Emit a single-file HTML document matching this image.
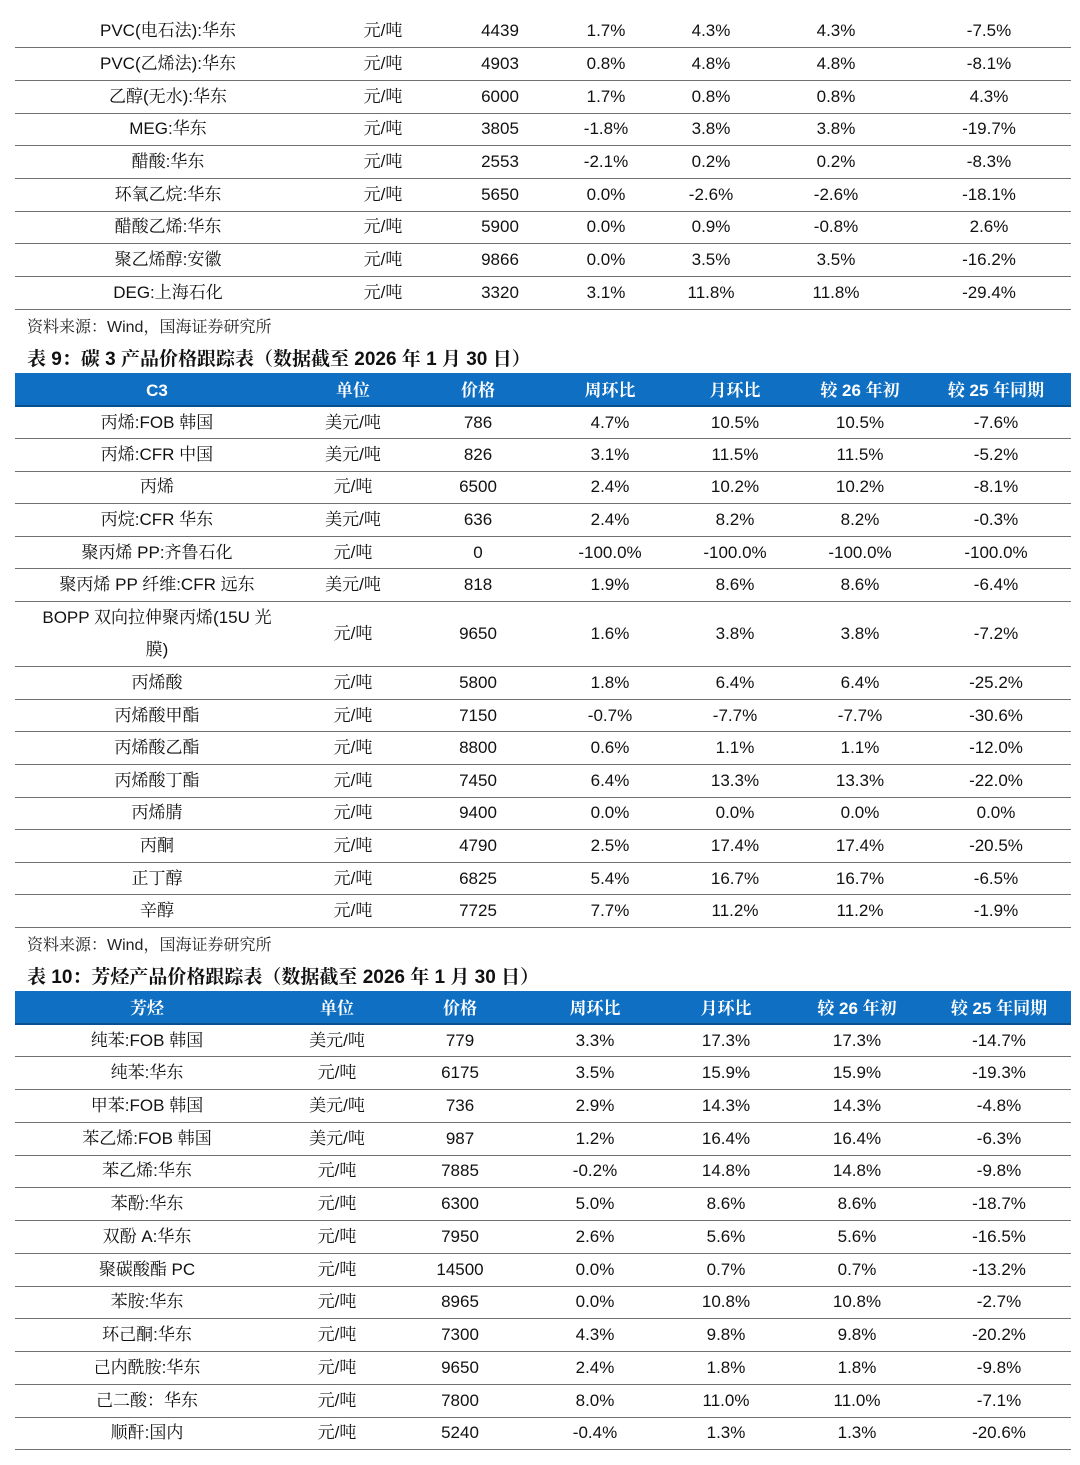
<!DOCTYPE html>
<html><head><meta charset="utf-8">
<style>
body{margin:0;width:1080px;height:1465px;background:#fff;position:relative;overflow:hidden;font-family:"Liberation Sans","Noto Serif CJK SC",serif;color:#111}
table{position:absolute;border-collapse:collapse;table-layout:fixed;font-size:17px}
td{text-align:center;padding:0;border-bottom:1.5px solid #707070;white-space:nowrap;line-height:20px}
tr.h td{background:#0e6fc3;color:#fff;font-weight:bold;border-bottom:2px solid #0a4f8e;font-size:17px;padding-top:3px}
.src{position:absolute;left:27px;font-size:16px;color:#222}
.ttl{position:absolute;left:27px;font-size:19px;font-weight:bold;color:#111}
</style></head><body>
<table style="left:15px;top:15px;width:1056px">
<colgroup><col style="width:306px"><col style="width:124px"><col style="width:110px"><col style="width:102px"><col style="width:108px"><col style="width:142px"><col style="width:164px"></colgroup>
<tbody id="t1"></tbody></table>
<div class="src" style="top:314px">资料来源：Wind，国海证券研究所</div>
<div class="ttl" style="top:344px">表 9：碳 3 产品价格跟踪表（数据截至 2026 年 1 月 30 日）</div>
<table style="left:15px;top:373px;width:1056px">
<colgroup><col style="width:284px"><col style="width:108px"><col style="width:142px"><col style="width:122px"><col style="width:128px"><col style="width:122px"><col style="width:150px"></colgroup>
<tbody id="t2"></tbody></table>
<div class="src" style="top:932px">资料来源：Wind，国海证券研究所</div>
<div class="ttl" style="top:962px">表 10：芳烃产品价格跟踪表（数据截至 2026 年 1 月 30 日）</div>
<table style="left:15px;top:991px;width:1056px">
<colgroup><col style="width:264px"><col style="width:116px"><col style="width:130px"><col style="width:140px"><col style="width:122px"><col style="width:140px"><col style="width:144px"></colgroup>
<tbody id="t3"></tbody></table>
<script>
const hdr2=["C3","单位","价格","周环比","月环比","较 26 年初","较 25 年同期"];
const hdr3=["芳烃","单位","价格","周环比","月环比","较 26 年初","较 25 年同期"];
const rows1=[
["PVC(电石法):华东","元/吨","4439","1.7%","4.3%","4.3%","-7.5%"],
["PVC(乙烯法):华东","元/吨","4903","0.8%","4.8%","4.8%","-8.1%"],
["乙醇(无水):华东","元/吨","6000","1.7%","0.8%","0.8%","4.3%"],
["MEG:华东","元/吨","3805","-1.8%","3.8%","3.8%","-19.7%"],
["醋酸:华东","元/吨","2553","-2.1%","0.2%","0.2%","-8.3%"],
["环氧乙烷:华东","元/吨","5650","0.0%","-2.6%","-2.6%","-18.1%"],
["醋酸乙烯:华东","元/吨","5900","0.0%","0.9%","-0.8%","2.6%"],
["聚乙烯醇:安徽","元/吨","9866","0.0%","3.5%","3.5%","-16.2%"],
["DEG:上海石化","元/吨","3320","3.1%","11.8%","11.8%","-29.4%"]];
const rows2=[
["丙烯:FOB 韩国","美元/吨","786","4.7%","10.5%","10.5%","-7.6%"],
["丙烯:CFR 中国","美元/吨","826","3.1%","11.5%","11.5%","-5.2%"],
["丙烯","元/吨","6500","2.4%","10.2%","10.2%","-8.1%"],
["丙烷:CFR 华东","美元/吨","636","2.4%","8.2%","8.2%","-0.3%"],
["聚丙烯 PP:齐鲁石化","元/吨","0","-100.0%","-100.0%","-100.0%","-100.0%"],
["聚丙烯 PP 纤维:CFR 远东","美元/吨","818","1.9%","8.6%","8.6%","-6.4%"],
["BOPP 双向拉伸聚丙烯(15U 光<br>膜)","元/吨","9650","1.6%","3.8%","3.8%","-7.2%"],
["丙烯酸","元/吨","5800","1.8%","6.4%","6.4%","-25.2%"],
["丙烯酸甲酯","元/吨","7150","-0.7%","-7.7%","-7.7%","-30.6%"],
["丙烯酸乙酯","元/吨","8800","0.6%","1.1%","1.1%","-12.0%"],
["丙烯酸丁酯","元/吨","7450","6.4%","13.3%","13.3%","-22.0%"],
["丙烯腈","元/吨","9400","0.0%","0.0%","0.0%","0.0%"],
["丙酮","元/吨","4790","2.5%","17.4%","17.4%","-20.5%"],
["正丁醇","元/吨","6825","5.4%","16.7%","16.7%","-6.5%"],
["辛醇","元/吨","7725","7.7%","11.2%","11.2%","-1.9%"]];
const rows3=[
["纯苯:FOB 韩国","美元/吨","779","3.3%","17.3%","17.3%","-14.7%"],
["纯苯:华东","元/吨","6175","3.5%","15.9%","15.9%","-19.3%"],
["甲苯:FOB 韩国","美元/吨","736","2.9%","14.3%","14.3%","-4.8%"],
["苯乙烯:FOB 韩国","美元/吨","987","1.2%","16.4%","16.4%","-6.3%"],
["苯乙烯:华东","元/吨","7885","-0.2%","14.8%","14.8%","-9.8%"],
["苯酚:华东","元/吨","6300","5.0%","8.6%","8.6%","-18.7%"],
["双酚 A:华东","元/吨","7950","2.6%","5.6%","5.6%","-16.5%"],
["聚碳酸酯 PC","元/吨","14500","0.0%","0.7%","0.7%","-13.2%"],
["苯胺:华东","元/吨","8965","0.0%","10.8%","10.8%","-2.7%"],
["环己酮:华东","元/吨","7300","4.3%","9.8%","9.8%","-20.2%"],
["己内酰胺:华东","元/吨","9650","2.4%","1.8%","1.8%","-9.8%"],
["己二酸：华东","元/吨","7800","8.0%","11.0%","11.0%","-7.1%"],
["顺酐:国内","元/吨","5240","-0.4%","1.3%","1.3%","-20.6%"]];
function build(id,hdr,rows,rh){
  const tb=document.getElementById(id);
  if(hdr){const tr=document.createElement('tr');tr.className='h';
    
    
    tr.style.height='33px';
    hdr.forEach(h=>{const td=document.createElement('td');td.textContent=h;
      
      
      tr.appendChild(td);});tb.appendChild(tr);}
  rows.forEach(r=>{const tr=document.createElement('tr');
    
    
    const dbl=r[0].includes('<br>');
    tr.style.height=(dbl?rh*2:rh)+'px';
    r.forEach(c=>{const td=document.createElement('td');td.innerHTML=c;
      if(dbl)td.style.lineHeight='32px';
      
      
      tr.appendChild(td);});tb.appendChild(tr);});
}
build('t1',null,rows1,32.7);
build('t2',hdr2,rows2,32.6);
build('t3',hdr3,rows3,32.75);
</script>
</body></html>
